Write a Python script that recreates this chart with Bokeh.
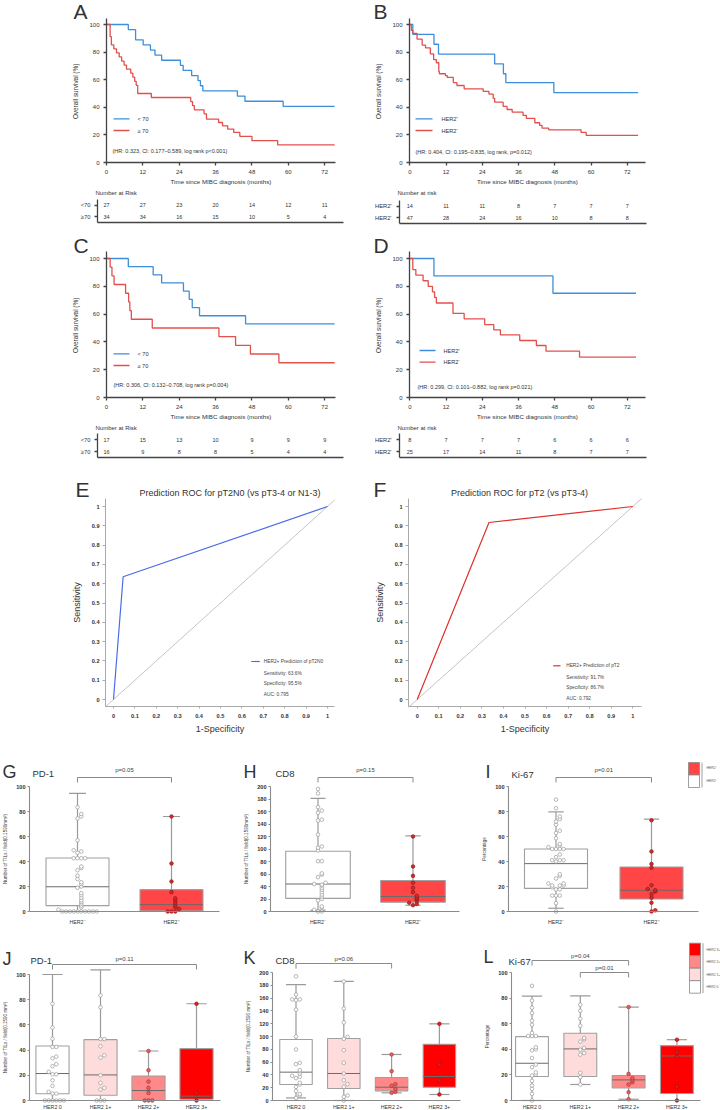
from bokeh.plotting import figure
from bokeh.models import (Range1d, FixedTicker, Label, Slope, CustomJSTickFormatter,
                          GlobalInlineStyleSheet)
from bokeh.layouts import column, row
from bokeh.core.properties import value
from bokeh.embed import file_html
from bokeh.resources import INLINE

# ======================= DATA =======================
km_ticks = [0, 12, 24, 36, 48, 60, 72]
km_yticks = [0, 20, 40, 60, 80, 100]

# A: age, all patients
A_young_t = [0, 7.2, 9.6, 12.1, 14.5, 16.0, 18.2, 24.4, 25.3, 28.1, 30.2, 31.0, 31.8, 43.2, 45.7, 58.3, 75.3]
A_young_s = [100, 96.3, 88.9, 85.2, 81.5, 77.8, 74.1, 70.4, 66.7, 63.0, 59.3, 55.6, 51.9, 48.1, 44.4, 40.7, 40.7]
A_old_t = [0, 1.2, 1.6, 2.4, 3.3, 4.2, 5.0, 5.8, 6.6, 8.0, 8.7, 9.3, 9.8, 10.3, 14.8, 27.8, 28.4, 29.0,
           32.2, 33.0, 37.0, 38.3, 40.0, 42.0, 44.0, 48.0, 56.5, 75.3]
A_old_s = [100, 91.2, 85.3, 82.4, 79.4, 76.5, 73.5, 70.6, 67.6, 64.7, 61.8, 58.8, 55.9, 50.0, 47.1, 44.1, 41.2, 38.2,
           35.3, 31.4, 29.0, 26.6, 24.2, 21.8, 19.0, 15.8, 12.7, 12.7]
A_rows = ["<70", "≥70"]
A_risk = [[27, 27, 23, 20, 14, 12, 11], [34, 34, 16, 15, 10, 5, 4]]
A_legend = ["< 70", "≥ 70"]
A_hr = "(HR: 0.323, CI: 0.177–0.589, log rank p<0.001)"

# B: HER2, all patients
B_pos_t = [0, 1.0, 8.0, 9.5, 28.1, 31.0, 31.8, 47.7, 75.6]
B_pos_s = [100, 92.9, 85.7, 78.6, 71.4, 64.3, 57.9, 50.6, 50.6]
B_neg_t = [0, 0.5, 1.0, 2.4, 4.1, 5.2, 6.8, 7.9, 8.8, 9.6, 9.8, 11.8, 12.4, 14.4, 15.6, 18.0, 24.3, 26.2,
           27.6, 28.1, 30.9, 32.2, 33.9, 37.5, 38.6, 41.4, 43.0, 43.8, 46.0, 56.7, 58.4, 75.6]
B_neg_s = [100, 95.7, 93.6, 89.4, 85.1, 83.0, 78.7, 74.5, 72.3, 66.0, 64.3, 63.0, 61.7, 57.9, 55.8, 53.4, 51.5, 49.6,
           46.5, 43.7, 40.6, 38.4, 36.5, 34.1, 32.0, 28.8, 26.9, 24.9, 23.7, 21.8, 19.6, 19.6]
B_rows = ["HER2⁺", "HER2⁻"]
B_risk = [[14, 11, 11, 8, 7, 7, 7], [47, 28, 24, 16, 10, 8, 8]]
B_legend = ["HER2⁺", "HER2⁻"]
B_hr = "(HR: 0.404, CI: 0.195–0.835, log rank, p=0.012)"

# C: age, subgroup
C_young_t = [0, 7.2, 15.4, 18.2, 25.4, 27.3, 28.3, 30.7, 45.9, 75.3]
C_young_s = [100, 94.1, 88.2, 82.4, 76.5, 70.6, 64.7, 58.8, 52.9, 52.9]
C_old_t = [0, 1.2, 1.8, 2.5, 6.3, 7.3, 7.7, 8.2, 15.1, 37.1, 42.6, 47.5, 56.9, 75.3]
C_old_s = [100, 93.8, 87.5, 81.3, 75.0, 68.8, 62.5, 56.3, 50.0, 43.8, 37.5, 31.3, 25.0, 25.0]
C_rows = ["<70", "≥70"]
C_risk = [[17, 15, 13, 10, 9, 9, 9], [16, 9, 8, 8, 5, 4, 4]]
C_legend = ["< 70", "≥ 70"]
C_hr = "(HR: 0.306, CI: 0.132–0.708, log rank p=0.004)"

# D: HER2, subgroup
D_pos_t = [0, 8.0, 47.4, 74.9]
D_pos_s = [100, 87.5, 75.0, 75.0]
D_neg_t = [0, 1.0, 2.0, 4.4, 6.1, 7.5, 8.2, 8.8, 14.3, 18.0, 24.8, 27.8, 30.0, 36.4, 41.9, 45.1, 56.2, 74.9]
D_neg_s = [100, 92.0, 88.0, 84.0, 80.0, 76.0, 72.0, 68.0, 60.5, 56.6, 52.5, 48.7, 45.0, 41.0, 37.4, 33.3, 29.0, 29.0]
D_rows = ["HER2⁺", "HER2⁻"]
D_risk = [[8, 7, 7, 7, 6, 6, 6], [25, 17, 14, 11, 8, 7, 7]]
D_legend = ["HER2⁺", "HER2⁻"]
D_hr = "(HR: 0.299, CI: 0.101–0.882, log rank p=0.021)"

# E / F: ROC
roc_ticks = [0, 0.1, 0.2, 0.3, 0.4, 0.5, 0.6, 0.7, 0.8, 0.9, 1.0]
E_fpr = [0, 0.045, 1.0]
E_tpr = [0, 0.636, 1.0]
E_title = "Prediction ROC for pT2N0 (vs pT3-4 or N1-3)"
E_legend = ["HER2+ Prediction of pT2N0", "Sensitivity: 63.6%", "Specificity: 95.5%", "AUC: 0.795"]
F_fpr = [0, 0.333, 1.0]
F_tpr = [0, 0.917, 1.0]
F_title = "Prediction ROC for pT2 (vs pT3-4)"
F_legend = ["HER2+ Prediction of pT2", "Sensitivity: 91.7%", "Specificity: 86.7%", "AUC: 0.792"]

# G / H / I: HER2- vs HER2+ ; stats = (whisker low, q1, median, q3, whisker high)
two_cats = ["HER2⁻", "HER2⁺"]
G_stats = [(0, 4.7, 19.8, 42.8, 94.5), (0, 0.5, 5.5, 17.5, 76)]
G_pts = [[0, 0, 0, 0, 0, 0, 0, 0, 0, 0, 1.5, 3.2, 4.7, 6.3, 7.6, 9, 11, 13, 14.7, 19, 20, 22, 23.4, 26, 28.7,
          33, 34.7, 36, 42.6, 42.6, 42.6, 42.6, 47, 48, 49, 57, 74.4, 76, 78, 83.4],
         [0, 0, 0, 2, 3.5, 5, 7, 9, 10.5, 15.5, 24, 38.4, 76]]
H_stats = [(2, 21, 44, 96.3, 181), (10, 15, 24, 49.6, 121)]
H_pts = [[0, 0, 2.7, 5.9, 8, 17.6, 20, 24, 27, 30.9, 34.6, 38, 41.6, 43, 44, 46, 55, 59, 61, 80.5, 80.5,
          97.6, 102, 104, 123, 145.6, 147, 158, 161.6, 167, 189, 196],
         [10, 12, 14, 17, 20, 22, 25, 31, 38, 46, 57, 72, 120]]
I_stats = [(2.6, 18.5, 38.3, 50, 79.7), (0, 10, 17, 35.6, 73.9)]
I_pts = [[0, 6.6, 12.7, 12.7, 12.7, 17.7, 17.7, 19.3, 20.8, 20.8, 20.8, 22.4, 22.4, 26.4, 28.5, 29.8, 40, 41, 41,
          41, 43.5, 45.6, 50, 50, 50, 50, 51.5, 52.8, 54, 58.6, 62.8, 64.6, 69.4, 72, 74, 76, 82.6, 89.5],
         [0, 1, 7, 11, 14, 16, 17, 18, 21, 35, 38, 48, 73]]

# J / K / L: HER2 score 0 / 1+ / 2+ / 3+
four_cats = ["HER2 0", "HER2 1+", "HER2 2+", "HER2 3+"]
J_stats = [(0, 5.3, 21.4, 43.3, 100), (0, 4.2, 20.3, 48.3, 103.7), (0, 0, 7.9, 19.5, 39.3), (0, 1, 3.4, 41.2, 76.8)]
J_pts = [[0, 0, 0, 0, 0, 0, 5.5, 5.5, 6.9, 11.6, 16, 20.8, 20.8, 22.7, 27.2, 28.8, 33.5, 34.8, 42.5, 42.5, 49,
          57.8, 76.8],
         [0, 0, 0, 8.7, 10, 14, 20, 34, 35.9, 43, 48.8, 48.8, 74, 83.4],
         [0, 0, 0, 6, 10, 15, 24, 39.3],
         [0, 6, 76.8]]
K_stats = [(4, 25, 44.3, 95.3, 181), (0, 18.8, 42.2, 96.9, 186), (12, 15.1, 20.8, 36, 71.9),
           (9.4, 20.8, 37.5, 88, 119.8)]
K_pts = [[4, 7.8, 10, 15, 21.4, 25, 27.6, 35, 37, 38.5, 42, 45.8, 47.4, 56.8, 58.9, 79.7, 100, 142, 156.8, 158,
          158, 165.6, 194],
         [0, 5.7, 7.8, 21.4, 25.5, 31.8, 42.2, 58.9, 78.6, 96.4, 99.5, 121.9, 143.8, 186],
         [12, 13.5, 17.7, 22.9, 25.5, 45.8, 71.9],
         [9.4, 31.8, 56.3, 119.8]]
L_stats = [(0, 18.7, 29.1, 49.9, 81.6), (12.5, 18.7, 40.3, 52.5, 81.8), (1, 9.9, 16.1, 19.5, 73),
           (0, 5.5, 34.8, 42.9, 47.5)]
L_pts = [[0, 5.2, 9.1, 11.7, 15.3, 19.5, 20.3, 22, 26, 28, 33.2, 39.2, 40, 41.6, 50.4, 50.4, 50.4, 52.7, 59.2,
          62.3, 68.3, 72.5, 78, 89.6],
         [12.5, 18.2, 21.6, 35.8, 37.1, 39.7, 41, 46, 47.8, 48.8, 58.4, 63.9, 70.1, 74.8],
         [1, 6.5, 12.5, 14.3, 15.8, 17.4, 20.8, 73],
         [0, 10.9, 34.3, 37.7, 47.5]]

# ======================= STYLE =======================
FONT = "Liberation Sans"
TXT = "#333333"
BLUE = "#3d8fdc"
RED = "#e2504c"
BOXL = "#a0a0a0"
two_fills = ["#ffffff", "#ff4545"]
four_fills = ["#ffffff", "#ffdcdc", "#ff8888", "#ff0000"]


class Geo:
    """Figure box (fx, fy, fw, fh) on the page and the axis box (al, at, ar, ab) in page px,
    with px -> data mapping: xa = (px, data, px per unit), ya = (py, data, px per unit, upward)."""
    def __init__(s, fx, fy, fw, fh, al, at, ar, ab, xa, ya):
        s.fx, s.fy, s.fw, s.fh = fx, fy, fw, fh
        s.al, s.at, s.ar, s.ab = al, at, ar, ab
        s.xa, s.ya = xa, ya

    def dx(s, px):
        return s.xa[1] + (px - s.xa[0]) / s.xa[2]

    def dy(s, py):
        return s.ya[1] + (s.ya[0] - py) / s.ya[2]


def mkfig(g):
    # the frame covers the whole figure; axes are drawn at fixed data locations inside it
    p = figure(width=g.fw, height=g.fh,
               x_range=Range1d(g.dx(g.fx), g.dx(g.fx + g.fw)),
               y_range=Range1d(g.dy(g.fy + g.fh), g.dy(g.fy)),
               toolbar_location=None, output_backend="svg",
               min_border_left=0, min_border_right=0, min_border_top=0, min_border_bottom=0,
               outline_line_color=None, border_fill_color="white")
    p.xgrid.visible = False
    p.ygrid.visible = False
    p.xaxis.fixed_location = g.dy(g.ab)
    p.yaxis.fixed_location = g.dx(g.al)
    p.xaxis.bounds = (g.dx(g.al), g.dx(g.ar))
    p.yaxis.bounds = (g.dy(g.ab), g.dy(g.at))
    return p


def style_axis(ax, tick_px, lab_px=7, bold=False, line="#555555", lw=1.0, tick_out=3, std=3, lstd=3, color=TXT):
    ax.axis_line_color = line
    ax.axis_line_width = lw
    ax.major_tick_line_color = line
    ax.major_tick_line_width = lw
    ax.major_tick_out = tick_out
    ax.major_tick_in = 0
    ax.minor_tick_line_color = None
    ax.major_label_text_font = FONT
    ax.major_label_text_font_size = f"{tick_px}px"
    ax.major_label_text_font_style = "bold" if bold else "normal"
    ax.major_label_text_color = color
    ax.major_label_standoff = std
    ax.axis_label_text_font = FONT
    ax.axis_label_text_font_size = f"{lab_px}px"
    ax.axis_label_text_font_style = "normal"
    ax.axis_label_text_color = color
    ax.axis_label_standoff = lstd


def label(p, g, px, py, txt, size, align="left", baseline="middle", style="normal", color=TXT):
    p.add_layout(Label(x=g.dx(px), y=g.dy(py), text=txt, text_font=FONT, text_font_size=f"{size}px",
                       text_align=align, text_baseline=baseline, text_font_style=style, text_color=color))


# ---------------- KM panels ----------------
def km_panel(g, letter, letter_pos, curves, legend, leg_pos, hr, hr_pos):
    p = mkfig(g)
    p.xaxis.ticker = FixedTicker(ticks=km_ticks)
    p.yaxis.ticker = FixedTicker(ticks=km_yticks)
    p.xaxis.axis_label = "Time since MIBC diagnosis (months)"
    p.yaxis.axis_label = "Overall survival  (%)"
    style_axis(p.xaxis[0], 6, 6.2, line="#444444", lw=1.3, tick_out=3, std=4, lstd=1)
    style_axis(p.yaxis[0], 6, 6.4, line="#444444", lw=1.3, tick_out=3, std=4, lstd=7)
    cols = [BLUE, RED]
    for (t, s), c in zip(curves, cols):
        p.step(x=t, y=s, mode="after", line_color=c, line_width=1.3)
    lx0, lx1, ltx, ly0, ly1 = leg_pos
    for lab, c, ly in zip(legend, cols, (ly0, ly1)):
        y = g.dy(ly)
        p.segment(x0=[g.dx(lx0)], x1=[g.dx(lx1)], y0=[y], y1=[y], line_color=c, line_width=1.3)
        label(p, g, ltx, ly, lab, 5.6)
    label(p, g, hr_pos[0], hr_pos[1], hr, 5.5)
    label(p, g, letter_pos[0], letter_pos[1], letter, 21)
    return p


def risk_panel(g, title, title_pos, rows, counts):
    p = mkfig(g)
    n = len(rows)
    ys = [n - i - 0.5 for i in range(n)]
    p.yaxis.ticker = FixedTicker(ticks=ys)
    p.yaxis.formatter = CustomJSTickFormatter(args=dict(labels=rows, n=n),
                                              code="return labels[Math.round(n - 0.5 - tick)];")
    p.xaxis.ticker = FixedTicker(ticks=[])
    style_axis(p.xaxis[0], 5.5, line="#444444", lw=1.3)
    style_axis(p.yaxis[0], 5.8, line="#444444", lw=1.3, tick_out=3, std=4)
    for y, c in zip(ys, counts):
        p.text(x=km_ticks, y=[y] * len(c), text=[str(v) for v in c], text_font=value(FONT),
               text_font_size="5.5px", text_align="center", text_baseline="middle", text_color=TXT)
    label(p, g, title_pos[0], title_pos[1], title, 6)
    return p


# ---------------- ROC panels ----------------
def roc_panel(g, letter, letter_pos, title, title_pos, fpr, tpr, color, legend, leg_pos):
    p = mkfig(g)
    x0, x1 = g.dx(g.al), g.dx(g.ar)
    p.line(x=[x0, x1], y=[x0, x1], line_color="#b5b5b5", line_width=0.8)   # chance diagonal
    p.line(x=fpr, y=tpr, line_color=color, line_width=1.2)
    fmt = "return String(Math.round(tick * 10) / 10);"
    p.xaxis.ticker = FixedTicker(ticks=roc_ticks)
    p.yaxis.ticker = FixedTicker(ticks=roc_ticks)
    p.xaxis.formatter = CustomJSTickFormatter(code=fmt)
    p.yaxis.formatter = CustomJSTickFormatter(code=fmt)
    p.xaxis.axis_label = "1-Specificity"
    p.yaxis.axis_label = "Sensitivity"
    style_axis(p.xaxis[0], 5.6, 9, bold=True, line="#aaaaaa", tick_out=2, std=5, lstd=3)
    style_axis(p.yaxis[0], 5.6, 9, bold=True, line="#aaaaaa", tick_out=3, std=3, lstd=7)
    lx0, lx1, tx, ys = leg_pos
    p.segment(x0=[g.dx(lx0)], x1=[g.dx(lx1)], y0=[g.dy(ys[0])], y1=[g.dy(ys[0])], line_color=color,
              line_width=1.2)
    for t, y in zip(legend, ys):
        label(p, g, tx, y, t, 4.8, color="#444444")
    label(p, g, title_pos[0], title_pos[1], title, 9, align="center")
    label(p, g, letter_pos[0], letter_pos[1], letter, 21)
    return p


# ---------------- box panels ----------------
def jitter(vals, tol, d):
    placed, offs = [], []
    for v in vals:
        k = sum(1 for u in placed if abs(u - v) < tol)
        placed.append(v)
        if k == 0:
            offs.append(0.0)
        else:
            m = (k + 1) // 2
            offs.append(m * d * (1 if k % 2 == 1 else -1))
    return offs


def box_panel(g, letter, letter_pos, name, name_pos, cats, stats, pts, fills, pfill, pline,
              box_w, cap_w, yticks, ylabel, brackets, legend=None):
    p = mkfig(g)
    p.yaxis.bounds = (0, yticks[-1])
    n = len(cats)
    xs = list(range(1, n + 1))
    lo = [s[0] for s in stats]
    q1 = [s[1] for s in stats]
    md = [s[2] for s in stats]
    q3 = [s[3] for s in stats]
    hi = [s[4] for s in stats]
    wc = "#9a9a9a"
    p.segment(x0=xs, y0=lo, x1=xs, y1=q1, line_color=wc, line_width=1.2)
    p.segment(x0=xs, y0=q3, x1=xs, y1=hi, line_color=wc, line_width=1.2)
    p.segment(x0=[x - cap_w / 2 for x in xs], x1=[x + cap_w / 2 for x in xs], y0=hi, y1=hi,
              line_color=wc, line_width=1.2)
    p.segment(x0=[x - cap_w / 2 for x in xs], x1=[x + cap_w / 2 for x in xs], y0=lo, y1=lo,
              line_color=wc, line_width=1.2)
    p.vbar(x=xs, width=box_w, bottom=q1, top=q3, fill_color=fills, line_color=BOXL, line_width=1.1)
    p.segment(x0=[x - box_w / 2 for x in xs], x1=[x + box_w / 2 for x in xs], y0=md, y1=md,
              line_color="#6a6a6a", line_width=1)
    d = 3.8 / g.xa[2]
    tol = yticks[-1] * 0.022
    for i, vals in enumerate(pts):
        offs = jitter(vals, tol, d)
        p.scatter(x=[xs[i] + o for o in offs], y=vals, marker="circle", size=3.6,
                  fill_color=pfill[i], line_color=pline[i], line_width=0.7)
    for (c1, c2, ypx, txt, typx) in brackets:
        yb, yd = g.dy(ypx), g.dy(ypx + 5)
        p.line(x=[c1, c1, c2, c2], y=[yd, yb, yb, yd], line_color="#8a8a8a", line_width=1)
        p.add_layout(Label(x=(c1 + c2) / 2, y=g.dy(typx), text=txt, text_font=FONT, text_font_size="6px",
                           text_align="center", text_baseline="middle", text_color="#444444"))
    p.yaxis.ticker = FixedTicker(ticks=yticks)
    p.xaxis.ticker = FixedTicker(ticks=xs)
    p.xaxis.formatter = CustomJSTickFormatter(args=dict(labels=cats),
                                              code="const i = Math.round(tick) - 1; return labels[i] || '';")
    p.yaxis.axis_label = ylabel
    bottom_std = 7 if n == 2 else 3
    style_axis(p.xaxis[0], 5.3, line="#8a8a8a", lw=1.1, tick_out=0, std=bottom_std)
    style_axis(p.yaxis[0], 5.6, 4.6, bold=True, line="#8a8a8a", lw=1.1, tick_out=2, std=2, lstd=5)
    if legend is not None:
        lx0, lx1, ys, tx, tys, labs, cols = legend
        p.quad(left=[g.dx(lx0)] * len(cols), right=[g.dx(lx1)] * len(cols),
               top=[g.dy(ys[i]) for i in range(len(cols))], bottom=[g.dy(ys[i + 1]) for i in range(len(cols))],
               fill_color=cols, line_color="#888888", line_width=0.8)
        p.segment(x0=[g.dx(lx1 + 2.5)], x1=[g.dx(lx1 + 2.5)], y0=[g.dy(ys[0])], y1=[g.dy(ys[-1])],
                  line_color="#888888", line_width=0.8)
        for t, ty in zip(labs, tys):
            label(p, g, tx, ty, t, 3.4, color="#555555")
    label(p, g, letter_pos[0], letter_pos[1], letter, 18)
    label(p, g, name_pos[0], name_pos[1], name, 9.5)
    return p


# ======================= GEOMETRY (page px) =======================
gA = Geo(0, 0, 360, 190, 106, 18, 335, 162, (106, 0, 3.03), (162, 0, 1.38))
gB = Geo(360, 0, 360, 190, 409, 18, 645, 162, (409.3, 0, 3.02), (162, 0, 1.38))
grA = Geo(0, 190, 360, 38, 97, 199, 343, 222, (106, 0, 3.03), (222, 0, 11.5))
grB = Geo(360, 190, 360, 38, 399, 200, 646, 223, (409.3, 0, 3.02), (223, 0, 11.5))
gC = Geo(0, 228, 360, 196, 106, 251, 335, 397, (106, 0, 3.03), (397, 0, 1.39))
gD = Geo(360, 228, 360, 196, 409, 251, 645, 397, (409.3, 0, 3.02), (397, 0, 1.39))
grC = Geo(0, 424, 360, 38, 97, 433, 343, 457, (106, 0, 3.03), (457, 0, 12))
grD = Geo(360, 424, 360, 38, 399, 433, 646, 457, (409.3, 0, 3.02), (457, 0, 12))
gE = Geo(0, 462, 360, 278, 105, 498, 334, 706, (113, 0, 214), (699, 0, 193))
gF = Geo(360, 462, 360, 278, 408, 498, 641, 706, (416.7, 0, 215.6), (699, 0, 193))
gG = Geo(0, 740, 240, 190, 29, 786, 219, 911, (77, 1, 94), (911, 0, 1.25))
gH = Geo(240, 740, 240, 190, 270, 786, 459, 911, (317.5, 1, 95), (911, 0, 0.625))
gI = Geo(480, 740, 240, 190, 508, 786, 698, 911, (555.5, 1, 95.5), (911, 0, 1.25))
gJ = Geo(0, 930, 240, 180, 29, 974, 220, 1100, (52, 1, 48), (1100, 0, 1.26))
gK = Geo(240, 930, 240, 180, 272, 972, 460, 1100, (295.5, 1, 47.8), (1100, 0, 0.64))
gL = Geo(480, 930, 240, 180, 511, 972, 700, 1100, (531.5, 1, 48.3), (1100, 0, 1.28))

# ======================= BUILD =======================
pA = km_panel(gA, "A", (73, 10.5), [(A_young_t, A_young_s), (A_old_t, A_old_s)], A_legend,
              (113, 129, 137, 118.3, 130), A_hr, (112, 150))
pB = km_panel(gB, "B", (373, 10.5), [(B_pos_t, B_pos_s), (B_neg_t, B_neg_s)], B_legend,
              (415, 432, 441, 118.3, 130), B_hr, (415, 151))
prA = risk_panel(grA, "Number at Risk", (95, 192), A_rows, A_risk)
prB = risk_panel(grB, "Number at risk", (397, 192), B_rows, B_risk)
pC = km_panel(gC, "C", (73, 244.5), [(C_young_t, C_young_s), (C_old_t, C_old_s)], C_legend,
              (113, 129, 137, 353.3, 365), C_hr, (113, 384))
pD = km_panel(gD, "D", (373, 244.5), [(D_pos_t, D_pos_s), (D_neg_t, D_neg_s)], D_legend,
              (419, 435, 443, 350, 361.7), D_hr, (417, 386.7))
prC = risk_panel(grC, "Number at Risk", (95, 427.5), C_rows, C_risk)
prD = risk_panel(grD, "Number at risk", (397, 427), D_rows, D_risk)
pE = roc_panel(gE, "E", (75, 488.5), E_title, (229.5, 492), E_fpr, E_tpr, "#4a6be8", E_legend,
               (250.7, 259.3, 263.3, [661, 673, 683.3, 693.7]))
pF = roc_panel(gF, "F", (373, 488.5), F_title, (519, 492), F_fpr, F_tpr, "#e0302a", F_legend,
               (552.7, 560, 565.7, [665.3, 676.7, 687.3, 697.7]))

gray_pf, gray_pl = "#ffffff", "#9a9a9a"
pG = box_panel(gG, "G", (2, 771.5), "PD-1", (32, 773), two_cats, G_stats, G_pts, two_fills,
               [gray_pf, "#d42a2a"], [gray_pl, "#8c1a1a"], 0.67, 0.18, [0, 20, 40, 60, 80, 100],
               "Number of TILs / field(0.1590mm²)", [(1, 2, 777, "p=0.05", 769.5)])
pH = box_panel(gH, "H", (243, 771.5), "CD8", (275, 773), two_cats, H_stats, H_pts, two_fills,
               [gray_pf, "#d42a2a"], [gray_pl, "#8c1a1a"], 0.68, 0.16,
               [0, 20, 40, 60, 80, 100, 120, 140, 160, 180, 200],
               "Number of TILs / field(0.1590mm²)", [(1, 2, 777, "p=0.15", 769.5)])
pI = box_panel(gI, "I", (485, 771.5), "Ki-67", (511, 774), two_cats, I_stats, I_pts, two_fills,
               [gray_pf, "#d42a2a"], [gray_pl, "#8c1a1a"], 0.66, 0.16, [0, 20, 40, 60, 80, 100],
               "Percentage", [(1, 2, 777, "p=0.01", 769.5)],
               legend=(688, 699, [762, 774.5, 787], 706, [767.5, 780.5],
                       list(reversed(two_cats)), list(reversed(two_fills))))
four_pf = [gray_pf, gray_pf, "#e86060", "#e02020"]
four_pl = [gray_pl, gray_pl, "#b03030", "#a01010"]
pJ = box_panel(gJ, "J", (2, 958.5), "PD-1", (30, 960), four_cats, J_stats, J_pts, four_fills,
               four_pf, four_pl, 0.69, 0.42, [0, 20, 40, 60, 80, 100],
               "Number of TILs / field(0.1590 mm²)", [(1, 4, 964, "p=0.11", 958)])
pK = box_panel(gK, "K", (243, 957), "CD8", (275, 960), four_cats, K_stats, K_pts, four_fills,
               four_pf, four_pl, 0.68, 0.42, [0, 20, 40, 60, 80, 100, 120, 140, 160, 180, 200],
               "Number of TILs / field(0.1590 mm²)", [(1, 3, 963, "p=0.06", 958)])
pL = box_panel(gL, "L", (483, 956.5), "Ki-67", (508, 961), four_cats, L_stats, L_pts, four_fills,
               four_pf, four_pl, 0.68, 0.42, [0, 20, 40, 60, 80, 100],
               "Percentage", [(1, 3, 960, "p=0.04", 955), (2, 3, 972, "p=0.01", 967)],
               legend=(689, 700, [942.7, 955.2, 967.7, 980.2, 992.7], 706, [949, 961.5, 974, 986.5],
                       list(reversed(four_cats)), list(reversed(four_fills))))

layout = column(row(pA, pB), row(prA, prB), row(pC, pD), row(prC, prD), row(pE, pF),
                row(pG, pH, pI), row(pJ, pK, pL))
layout.stylesheets = [GlobalInlineStyleSheet(css="html, body { margin: 0 !important; padding: 0 !important; }")]

open("out.html", "w").write(file_html(layout, INLINE))
